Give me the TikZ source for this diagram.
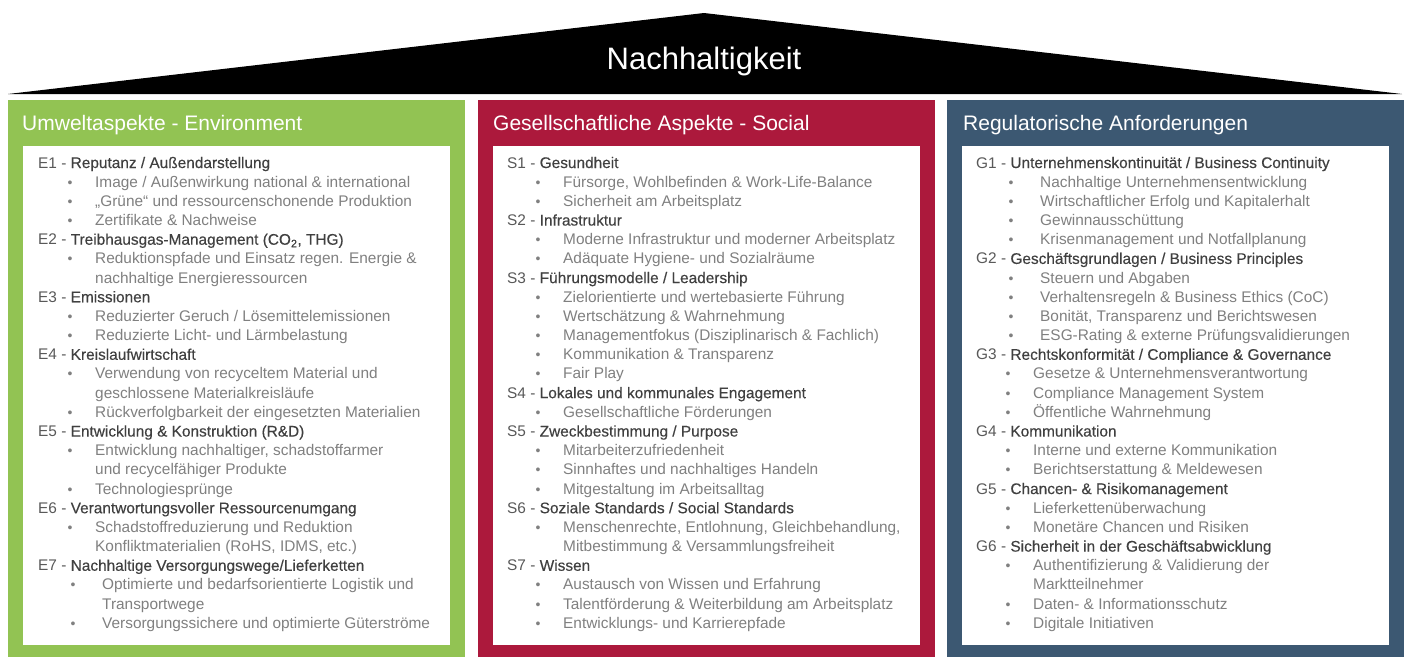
\documentclass[tikz,border=0pt]{standalone}
\usepackage{fontspec}
\setmainfont{Liberation Sans}
\newfontfamily\medfont{Liberation Sans}[FakeBold=0.3]
\usetikzlibrary{positioning}

\definecolor{envgreen}{RGB}{146,195,83}
\definecolor{socred}{RGB}{172,25,60}
\definecolor{govblue}{RGB}{60,88,114}
\definecolor{headgray}{RGB}{64,64,64}
\definecolor{pregray}{RGB}{89,89,89}
\definecolor{itemgray}{RGB}{128,128,128}

% one line per entry: h = heading, b = bullet, c = continued line,
% w / x = bullet / continued line set a bit further in
\newcommand{\pillarlines}[4]{%
  \foreach \kind/\pre/\txt [count=\i] in {#4} {
    \pgfmathsetmacro{\yb}{168+(\i-1)*19.18}
    \if\kind h
      \node [head] (#1\i) at (#2,\yb) {\pre\ {\medfont\color{headgray}\txt}};
    \else\if\kind c
      \node [item] (#1\i) at (#3+25,\yb) {\txt};
    \else\if\kind x
      \node [item] (#1\i) at (#3+32,\yb) {\txt};
    \else\if\kind w
      \node [dot] (#1b\i) at (#3+3,\yb) {\textbullet};
      \node [item] (#1\i) at (#3+32,\yb) {\txt};
    \else
      \node [dot] (#1b\i) at (#3,\yb) {\textbullet};
      \node [item] (#1\i) at (#3+25,\yb) {\txt};
    \fi\fi\fi\fi
  }%
}

\begin{document}
\begin{tikzpicture}
        [x=1pt, y=-1pt,
        pillar/.style={rectangle, anchor=north west, inner sep=0pt,
        minimum width=457pt, minimum height=557pt},
        sheet/.style={rectangle, anchor=north west, fill=white, inner sep=0pt,
        minimum width=427pt, minimum height=499pt},
        title/.style={anchor=base west, inner sep=0pt, text=white,
        font=\fontsize{21}{24}\selectfont},
        head/.style={anchor=base west, inner sep=0pt, text=pregray,
        font=\fontsize{15.4}{18}\selectfont},
        item/.style={anchor=base west, inner sep=0pt, text=itemgray,
        font=\fontsize{15.4}{18}\selectfont},
        dot/.style={anchor=base, inner sep=0pt, text=itemgray,
        font=\fontsize{14}{16}\selectfont}]
        \useasboundingbox (0,0) rectangle (1407,659);

        % roof
        \fill [black] (8,94) -- (704,13) -- (1402,94) -- cycle;
        \node [anchor=base, inner sep=0pt, text=white,
               font=\fontsize{31}{34}\selectfont] (roof) at (704,69) {Nachhaltigkeit};

        % pillars
        \node [pillar, fill=envgreen] (env) at (8,100) {};
        \node [pillar, fill=socred] (soc) at (478,100) {};
        \node [pillar, fill=govblue] (gov) at (947,100) {};
        \node [sheet] (envsheet) at (23,146) {};
        \node [sheet] (socsheet) at (493,146) {};
        \node [sheet] (govsheet) at (962,146) {};
        \node [title] (envtitle) at (22,130) {Umweltaspekte - Environment};
        \node [title] (soctitle) at (493,130) {Gesellschaftliche Aspekte - Social};
        \node [title] (govtitle) at (963,130) {Regulatorische Anforderungen};

        % environment
        \pillarlines{e}{38}{70}{
            h/{E1 -}/{Reputanz / Außendarstellung},
            b/-/{Image / Außenwirkung national \& international},
            b/-/{„Grüne“ und ressourcenschonende Produktion},
            b/-/{Zertifikate \& Nachweise},
            h/{E2 -}/{Treibhausgas-Management (CO\textsubscript{2}, THG)},
            b/-/{Reduktionspfade und Einsatz regen. Energie \&},
            c/-/{nachhaltige Energieressourcen},
            h/{E3 -}/{Emissionen},
            b/-/{Reduzierter Geruch / Lösemittelemissionen},
            b/-/{Reduzierte Licht- und Lärmbelastung},
            h/{E4 -}/{Kreislaufwirtschaft},
            b/-/{Verwendung von recyceltem Material und},
            c/-/{geschlossene Materialkreisläufe},
            b/-/{Rückverfolgbarkeit der eingesetzten Materialien},
            h/{E5 -}/{Entwicklung \& Konstruktion (R\&D)},
            b/-/{Entwicklung nachhaltiger, schadstoffarmer},
            c/-/{und recycelfähiger Produkte},
            b/-/{Technologiesprünge},
            h/{E6 -}/{Verantwortungsvoller Ressourcenumgang},
            b/-/{Schadstoffreduzierung und Reduktion},
            c/-/{Konfliktmaterialien (RoHS, IDMS, etc.)},
            h/{E7 -}/{Nachhaltige Versorgungswege/Lieferketten},
            w/-/{Optimierte und bedarfsorientierte Logistik und},
            x/-/{Transportwege},
            w/-/{Versorgungssichere und optimierte Güterströme}}

        % social
        \pillarlines{s}{507}{538}{
            h/{S1 -}/{Gesundheit},
            b/-/{Fürsorge, Wohlbefinden \& Work-Life-Balance},
            b/-/{Sicherheit am Arbeitsplatz},
            h/{S2 -}/{Infrastruktur},
            b/-/{Moderne Infrastruktur und moderner Arbeitsplatz},
            b/-/{Adäquate Hygiene- und Sozialräume},
            h/{S3 -}/{Führungsmodelle / Leadership},
            b/-/{Zielorientierte und wertebasierte Führung},
            b/-/{Wertschätzung \& Wahrnehmung},
            b/-/{Managementfokus (Disziplinarisch \& Fachlich)},
            b/-/{Kommunikation \& Transparenz},
            b/-/{Fair Play},
            h/{S4 -}/{Lokales und kommunales Engagement},
            b/-/{Gesellschaftliche Förderungen},
            h/{S5 -}/{Zweckbestimmung / Purpose},
            b/-/{Mitarbeiterzufriedenheit},
            b/-/{Sinnhaftes und nachhaltiges Handeln},
            b/-/{Mitgestaltung im Arbeitsalltag},
            h/{S6 -}/{Soziale Standards / Social Standards},
            b/-/{Menschenrechte, Entlohnung, Gleichbehandlung,},
            c/-/{Mitbestimmung \& Versammlungsfreiheit},
            h/{S7 -}/{Wissen},
            b/-/{Austausch von Wissen und Erfahrung},
            b/-/{Talentförderung \& Weiterbildung am Arbeitsplatz},
            b/-/{Entwicklungs- und Karrierepfade}}

        % governance
        \pillarlines{g}{976}{1008}{
            h/{G1 -}/{Unternehmenskontinuität / Business Continuity},
            w/-/{Nachhaltige Unternehmensentwicklung},
            w/-/{Wirtschaftlicher Erfolg und Kapitalerhalt},
            w/-/{Gewinnausschüttung},
            w/-/{Krisenmanagement und Notfallplanung},
            h/{G2 -}/{Geschäftsgrundlagen / Business Principles},
            w/-/{Steuern und Abgaben},
            w/-/{Verhaltensregeln \& Business Ethics (CoC)},
            w/-/{Bonität, Transparenz und Berichtswesen},
            w/-/{ESG-Rating \& externe Prüfungsvalidierungen},
            h/{G3 -}/{Rechtskonformität / Compliance \& Governance},
            b/-/{Gesetze \& Unternehmensverantwortung},
            b/-/{Compliance Management System},
            b/-/{Öffentliche Wahrnehmung},
            h/{G4 -}/{Kommunikation},
            b/-/{Interne und externe Kommunikation},
            b/-/{Berichtserstattung \& Meldewesen},
            h/{G5 -}/{Chancen- \& Risikomanagement},
            b/-/{Lieferkettenüberwachung},
            b/-/{Monetäre Chancen und Risiken},
            h/{G6 -}/{Sicherheit in der Geschäftsabwicklung},
            b/-/{Authentifizierung \& Validierung der},
            c/-/{Marktteilnehmer},
            b/-/{Daten- \& Informationsschutz},
            b/-/{Digitale Initiativen}}
    \end{tikzpicture}
\end{document}
